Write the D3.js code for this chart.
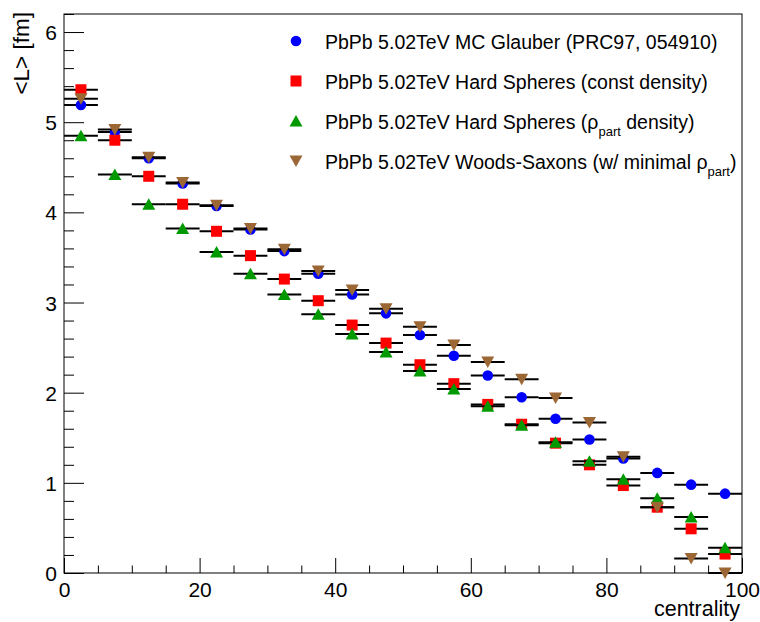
<!DOCTYPE html>
<html>
<head>
<meta charset="utf-8">
<script src="https://cdn.jsdelivr.net/npm/d3@7"></script>
<style>
html,body{margin:0;padding:0;background:#fff;}
svg{display:block;font-family:"Liberation Sans",Arial,sans-serif;}
</style>
</head>
<body>
<svg id="chart" width="760" height="622"></svg>
<script>
// ---- data ----
const centrality = [2.5, 7.5, 12.5, 17.5, 22.5, 27.5, 32.5, 37.5, 42.5, 47.5,
                    52.5, 57.5, 62.5, 67.5, 72.5, 77.5, 82.5, 87.5, 92.5, 97.5];
const binHalfWidth = 2.5;
const glauber   = [5.19, 4.89, 4.60, 4.32, 4.07, 3.81, 3.57, 3.32, 3.09, 2.88,
                   2.64, 2.41, 2.19, 1.95, 1.71, 1.48, 1.27, 1.11, 0.98, 0.88];
const hsConst   = [5.36, 4.80, 4.40, 4.09, 3.79, 3.52, 3.26, 3.02, 2.75, 2.55,
                   2.31, 2.10, 1.87, 1.65, 1.44, 1.20, 0.97, 0.73, 0.49, 0.21];
const hsPart    = [4.85, 4.42, 4.09, 3.82, 3.56, 3.32, 3.09, 2.87, 2.65, 2.45,
                   2.24, 2.04, 1.85, 1.64, 1.45, 1.24, 1.04, 0.83, 0.62, 0.28];
const woodsSax  = [5.26, 4.92, 4.61, 4.33, 4.08, 3.82, 3.59, 3.35, 3.14, 2.93,
                   2.73, 2.53, 2.34, 2.15, 1.94, 1.67, 1.29, 0.73, 0.16, 0.00];
const xTicks = [0, 20, 40, 60, 80, 100];
const yTicks = [0, 1, 2, 3, 4, 5, 6];
const xLabel = "centrality";
const yLabel = "<L> [fm]";

const series = [
  {name: "glauber", values: glauber,  color: "#0000ff", shape: "circle",
   label: [{t: "PbPb 5.02TeV MC Glauber (PRC97, 054910)"}]},
  {name: "hsConst", values: hsConst,  color: "#ff0000", shape: "square",
   label: [{t: "PbPb 5.02TeV Hard Spheres (const density)"}]},
  {name: "hsPart",  values: hsPart,   color: "#009a00", shape: "up",
   label: [{t: "PbPb 5.02TeV Hard Spheres (ρ"}, {t: "part", sub: true}, {t: " density)"}]},
  {name: "ws",      values: woodsSax, color: "#9b6734", shape: "down",
   label: [{t: "PbPb 5.02TeV Woods-Saxons (w/ minimal ρ"}, {t: "part", sub: true}, {t: ")"}]}
];

// ---- layout ----
const L = 64, R = 742, T = 14, B = 573;
const svg = d3.select("#chart");
svg.append("rect").attr("width", 760).attr("height", 622).attr("fill", "#fff");

const x = d3.scaleLinear().domain([0, 100]).range([L, R]);
const y = d3.scaleLinear().domain([0, 6.2]).range([B, T]);

// frame
svg.append("rect").attr("x", L).attr("y", T).attr("width", R - L).attr("height", B - T)
  .attr("fill", "none").attr("stroke", "#000").attr("stroke-width", 1);

// x axis (ticks drawn inward/upward)
const xAxis = d3.axisTop(x).tickValues(d3.range(0, 100.001, 5))
  .tickSize(0).tickFormat("");
const gx = svg.append("g").attr("transform", `translate(0,${B})`);
gx.call(xAxis);
gx.select(".domain").remove();
gx.selectAll(".tick line").attr("y2", d => (d % 20 === 0 ? -15 : -7.5))
  .attr("stroke", "#000").attr("stroke-width", 1);
gx.selectAll(".tick").filter(d => xTicks.includes(d)).append("text")
  .attr("y", 24).attr("text-anchor", "middle").attr("fill", "#000")
  .attr("font-size", 21).text(d => d);

// y axis (ticks drawn inward/right)
const yMinor = d3.range(0, 6.2001, 0.2).map(v => Math.round(v * 10) / 10);
const yAxis = d3.axisLeft(y).tickValues(yMinor).tickSize(0).tickFormat("");
const gy = svg.append("g").attr("transform", `translate(${L},0)`);
gy.call(yAxis);
gy.select(".domain").remove();
gy.selectAll(".tick line").attr("x2", d => (yTicks.includes(d) ? 20 : 10))
  .attr("stroke", "#000").attr("stroke-width", 1);
gy.selectAll(".tick").filter(d => yTicks.includes(d)).append("text")
  .attr("x", -7).attr("dy", "0.36em").attr("text-anchor", "end").attr("fill", "#000")
  .attr("font-size", 21).text(d => d);

// axis titles
svg.append("text").attr("x", R - 2).attr("y", 616).attr("text-anchor", "end")
  .attr("font-size", 21.5).attr("fill", "#000").text(xLabel);
svg.append("text").attr("transform", `translate(29,${T - 2}) rotate(-90)`)
  .attr("text-anchor", "end").attr("font-size", 22.5).attr("fill", "#000").text(yLabel);

// marker drawing
function marker(sel, shape, color, cx, cy) {
  if (shape === "circle") {
    sel.append("circle").attr("cx", cx).attr("cy", cy).attr("r", 5.3).attr("fill", color);
  } else if (shape === "square") {
    sel.append("rect").attr("x", cx - 5.5).attr("y", cy - 5.5).attr("width", 11).attr("height", 11).attr("fill", color);
  } else if (shape === "up") {
    sel.append("path").attr("d", `M${cx - 6.5},${cy + 5.5}L${cx + 6.5},${cy + 5.5}L${cx},${cy - 6}Z`).attr("fill", color);
  } else {
    sel.append("path").attr("d", `M${cx - 6.5},${cy - 5.5}L${cx + 6.5},${cy - 5.5}L${cx},${cy + 6}Z`).attr("fill", color);
  }
}

// data series
series.forEach(s => {
  const g = svg.append("g").attr("class", "series-" + s.name);
  g.selectAll("line.err").data(centrality).enter().append("line")
    .attr("class", "err")
    .attr("x1", d => x(d - binHalfWidth)).attr("x2", d => x(d + binHalfWidth))
    .attr("y1", (d, i) => y(s.values[i])).attr("y2", (d, i) => y(s.values[i]))
    .attr("stroke", "#000").attr("stroke-width", 2);
  centrality.forEach((c, i) => marker(g, s.shape, s.color, x(c), y(s.values[i])));
});

// legend
const legY0 = 41, legDy = 40;
series.forEach((s, i) => {
  const yy = legY0 + i * legDy;
  marker(svg, s.shape, s.color, 296, yy);
  const t = svg.append("text").attr("x", 325).attr("y", yy + 7.5)
    .attr("font-size", 19.5).attr("fill", "#000");
  s.label.forEach(part => {
    const ts = t.append("tspan").text(part.t);
    if (part.sub) ts.attr("font-size", 13).attr("dy", 7);
    else if (t.selectAll("tspan").size() > 1) ts.attr("dy", -7);
  });
});
</script>
</body>
</html>
